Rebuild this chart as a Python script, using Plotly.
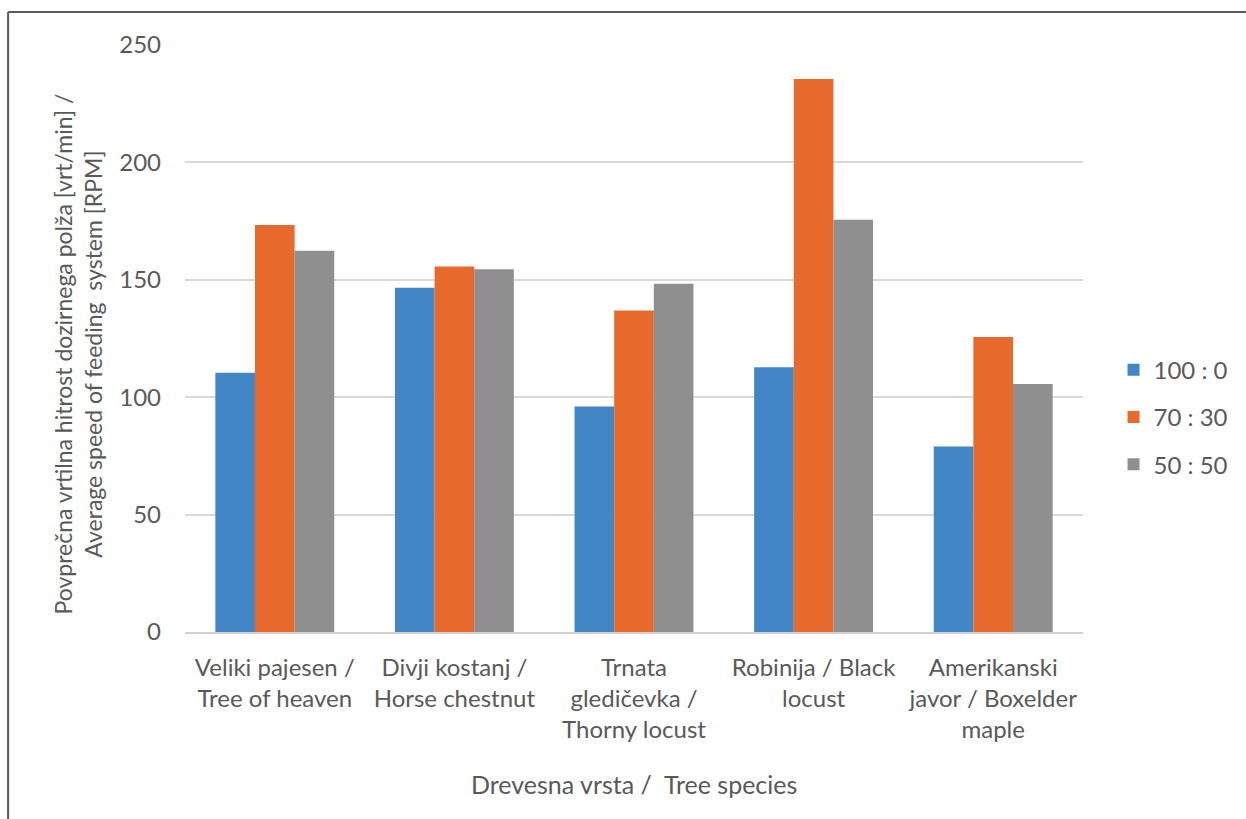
import plotly.graph_objects as go

# Tree species (Slovenian / English), shown as wrapped category labels
species = [
    "Veliki pajesen /<br>Tree of heaven",
    "Divji kostanj /<br>Horse chestnut",
    "Trnata<br>gledičevka /<br>Thorny locust",
    "Robinija / Black<br>locust",
    "Amerikanski<br>javor / Boxelder<br>maple",
]

# Mixing ratios
series_names = ["100 : 0", "70 : 30", "50 : 50"]

# Average speed of the feeding system [RPM]
rpm_100_0 = [110.4, 146.6, 96.0, 112.8, 79.0]
rpm_70_30 = [173.3, 155.7, 136.9, 235.5, 125.6]
rpm_50_50 = [162.4, 154.5, 148.3, 175.6, 105.6]

y_ticks = [0, 50, 100, 150, 200, 250]

colors = ["#4386C6", "#E8692C", "#8F8F8F"]
text_color = "#595959"
font_family = "Lato, 'Open Sans', sans-serif"

fig = go.Figure()
for name, vals, col in zip(series_names, [rpm_100_0, rpm_70_30, rpm_50_50], colors):
    fig.add_trace(go.Bar(
        x=species, y=vals, name=name,
        marker=dict(color=col, line=dict(width=0)),
        legendgroup=name,
    ))

fig.update_layout(
    width=1246, height=819,
    margin=dict(l=185, r=160, t=45, b=187),
    paper_bgcolor="white", plot_bgcolor="white",
    barmode="group", bargap=0.338, bargroupgap=0,
    font=dict(family=font_family, size=24, color=text_color),
    showlegend=True,
    legend=dict(
        x=1.034, y=0.366, xanchor="left", yanchor="middle",
        font=dict(size=24, color=text_color),
        tracegroupgap=13, itemwidth=30,
        bgcolor="rgba(0,0,0,0)",
    ),
)

fig.update_xaxes(
    showgrid=False, showline=True, linecolor="#D0D0D0", linewidth=1.5,
    ticks="", tickfont=dict(size=24, color=text_color),
    ticklabelstandoff=13,
)
fig.update_yaxes(
    range=[0, 250], tickvals=y_ticks, showgrid=True,
    gridcolor="#D9D9D9", gridwidth=1.5, zeroline=False, showline=False,
    ticks="", tickfont=dict(size=24, color=text_color),
    ticklabelstandoff=23,
)

# Axis titles
fig.add_annotation(
    text="Povprečna vrtilna hitrost dozirnega polža [vrt/min] /<br>Average speed of feeding  system [RPM]",
    xref="paper", yref="paper", x=-0.119, y=0.473,
    xanchor="center", yanchor="middle", textangle=-90, showarrow=False,
    font=dict(size=23, color=text_color),
)
fig.add_annotation(
    text="Drevesna vrsta /  Tree species",
    xref="paper", yref="paper", x=0.5, y=-0.259,
    xanchor="center", yanchor="middle", showarrow=False,
    font=dict(size=25, color=text_color),
)

# Outer frame (top and left edges)
fig.add_shape(type="line", xref="paper", yref="paper",
              x0=-0.197, x1=1.2, y0=1.0562, y1=1.0562,
              line=dict(color="#5A5A5A", width=2))
fig.add_shape(type="line", xref="paper", yref="paper",
              x0=-0.197, x1=-0.197, y0=1.0562, y1=-0.33,
              line=dict(color="#5A5A5A", width=2))

fig.write_html("out.html")
